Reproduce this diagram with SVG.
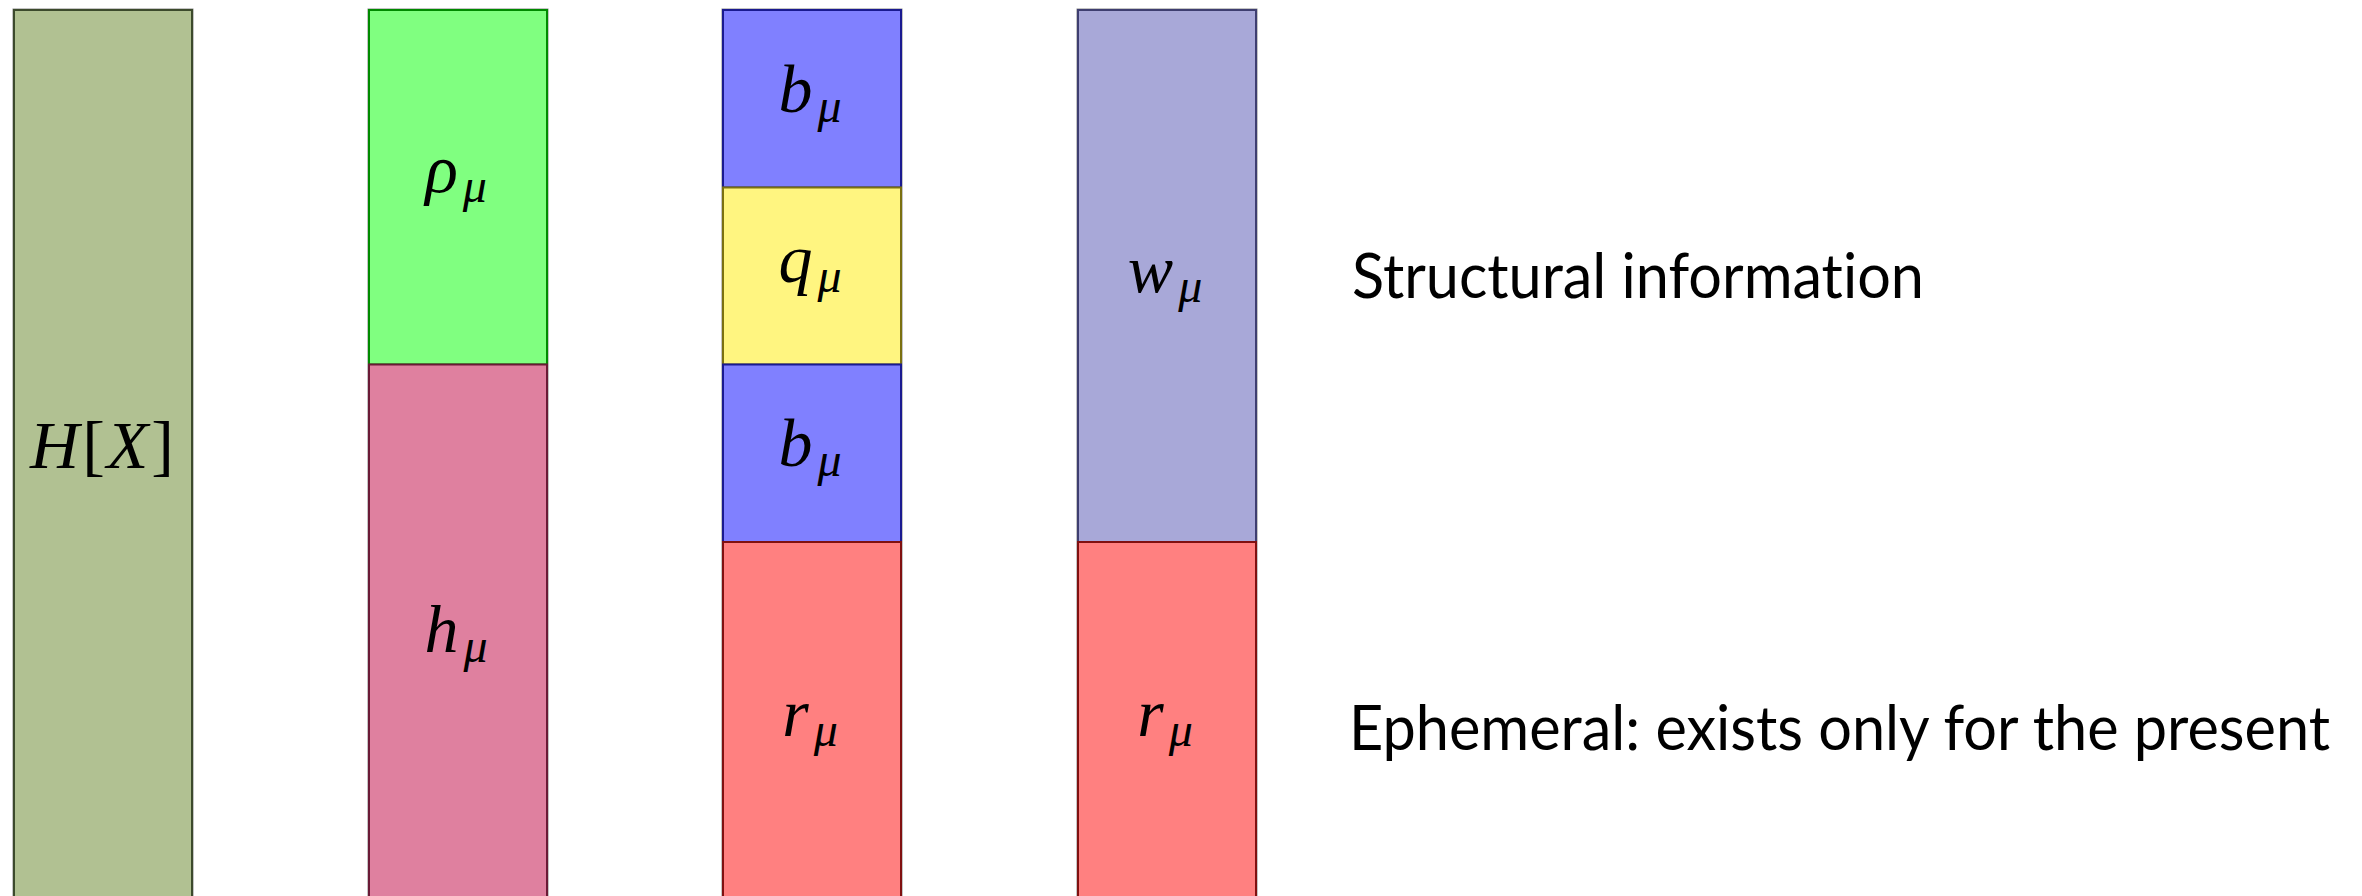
<svg xmlns="http://www.w3.org/2000/svg" width="2362" height="896" viewBox="0 0 2362 896">
<style>
.cell{stroke-width:2}
.outline{fill:none;stroke:#8a8a8a;stroke-width:1}
.olive{fill:#b1c192;stroke:#3c4a2c}
.green{fill:#80ff80;stroke:#008a00}
.pink{fill:#df809f;stroke:#6a1a36}
.blue{fill:#8080ff;stroke:#1a1a90}
.yellow{fill:#fff580;stroke:#7a7010}
.lav{fill:#a8a8d8;stroke:#3e3e70}
.red{fill:#ff8080;stroke:#801010}
.m{font-family:"Liberation Serif","DejaVu Serif",serif;font-size:68px;fill:#000;text-anchor:middle}
.i{font-style:italic}
.s{font-style:italic;font-size:48px}
.lbl{font-family:Lato,"Liberation Sans",sans-serif;font-size:61px;fill:#000;font-variant-ligatures:none}
</style>
<rect width="2362" height="896" fill="#fff"/>
<g id="col-HX">
<rect class="outline" x="13" y="9" width="180" height="900"/>
<rect class="cell olive" x="14" y="10" width="178" height="900"/>
<text class="m" x="102" y="468"><tspan class="i">H</tspan><tspan dx="3">[</tspan><tspan class="i" dx="2">X</tspan><tspan dx="3">]</tspan></text>
</g>
<g id="col-rho-h">
<rect class="outline" x="368" y="9" width="180" height="900"/>
<rect class="cell green" x="369" y="10" width="178" height="354.5"/>
<text class="m" x="456" y="192"><tspan class="i">ρ</tspan><tspan class="s" dx="5" dy="10">μ</tspan></text>
<rect class="cell pink" x="369" y="364.5" width="178" height="545"/>
<text class="m" x="456" y="652"><tspan class="i">h</tspan><tspan class="s" dx="5" dy="10">μ</tspan></text>
</g>
<g id="col-bqbr">
<rect class="outline" x="722" y="9" width="180" height="900"/>
<rect class="cell blue" x="723" y="10" width="178" height="177.5"/>
<text class="m" x="810" y="112"><tspan class="i">b</tspan><tspan class="s" dx="5" dy="10">μ</tspan></text>
<rect class="cell yellow" x="723" y="187.5" width="178" height="177"/>
<text class="m" x="810" y="282"><tspan class="i">q</tspan><tspan class="s" dx="5" dy="10">μ</tspan></text>
<rect class="cell blue" x="723" y="364.5" width="178" height="177.5"/>
<text class="m" x="810" y="466"><tspan class="i">b</tspan><tspan class="s" dx="5" dy="10">μ</tspan></text>
<rect class="cell red" x="723" y="542" width="178" height="368"/>
<text class="m" x="810" y="736"><tspan class="i">r</tspan><tspan class="s" dx="5" dy="10">μ</tspan></text>
</g>
<g id="col-wr">
<rect class="outline" x="1077" y="9" width="180" height="900"/>
<rect class="cell lav" x="1078" y="10" width="178" height="532"/>
<text class="m" x="1165" y="292"><tspan class="i">w</tspan><tspan class="s" dx="5" dy="10">μ</tspan></text>
<rect class="cell red" x="1078" y="542" width="178" height="368"/>
<text class="m" x="1165" y="736"><tspan class="i">r</tspan><tspan class="s" dx="5" dy="10">μ</tspan></text>
</g>
<g id="labels">
<text class="lbl" x="1352" y="298" textLength="572" lengthAdjust="spacingAndGlyphs">Structural information</text>
<text class="lbl" x="1349" y="750" textLength="981" lengthAdjust="spacingAndGlyphs">Ephemeral: exists only for the present</text>
</g>
<g id="connectors"></g>
</svg>
